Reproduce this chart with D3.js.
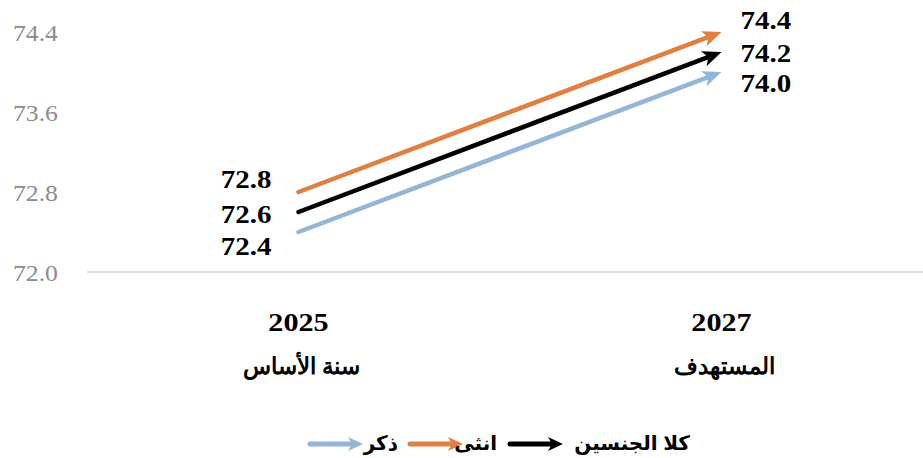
<!DOCTYPE html>
<html><head><meta charset="utf-8">
<script src="https://cdn.jsdelivr.net/npm/d3@7"></script>
<style>
html,body{margin:0;padding:0;background:#fff;}
svg{display:block;}
</style></head>
<body>
<svg id="chart" width="923" height="458"></svg>
<script>
const categories = ["2025", "2027"];
const categoryNames = ["سنة الأساس", "المستهدف"];
const seriesNames = ["ذكر", "انثى", "كلا الجنسين"];
const maleValues = [72.4, 74.0];
const femaleValues = [72.8, 74.4];
const bothValues = [72.6, 74.2];
const yTicks = [72.0, 72.8, 73.6, 74.4];

const series = [
  {name: seriesNames[0], values: maleValues, color: "#93B6D6", startDy: 14, endDy: 11},
  {name: seriesNames[1], values: femaleValues, color: "#E07F40", startDy: -13, endDy: -12},
  {name: seriesNames[2], values: bothValues, color: "#000000", startDy: 2, endDy: 1}
];

const svg = d3.select("#chart");
const x = d3.scaleBand().domain(categories).range([87, 933]);
const y = d3.scaleLinear().domain([72.0, 74.4]).range([272, 32]);
const cx = c => x(c) + x.bandwidth() / 2;
const serif = "'Liberation Serif','Times New Roman','DejaVu Serif',serif";
const SX = 1.16;

function wideText(px, py, anchor, size, str, opts = {}) {
  const g = svg.append("g").attr("transform", `translate(${px},${py}) scale(${opts.sx || SX},1)`);
  return g.append("text").attr("x", 0).attr("y", 0).attr("dy", opts.dy || "0.35em")
    .attr("text-anchor", anchor).attr("font-family", opts.family || serif)
    .attr("font-weight", opts.weight || "bold").attr("font-size", size)
    .attr("fill", opts.fill || "#000").text(str);
}

// axis line
svg.append("line").attr("x1", 87).attr("x2", 923).attr("y1", y(72.0)).attr("y2", y(72.0))
  .attr("stroke", "#D9D9D9").attr("stroke-width", 1.5);

// y tick labels (via axis generator for positions)
const yAxis = d3.axisLeft(y).tickValues(yTicks).tickFormat(d3.format(".1f")).tickSize(0).tickPadding(0);
const ga = svg.append("g").attr("transform", "translate(58,0)").call(yAxis);
ga.select(".domain").remove();
ga.selectAll("text").attr("font-family", serif).attr("font-size", 23).attr("fill", "#8C8C8C")
  .attr("dy", "0.35em").attr("x", 0).attr("transform", `scale(${1.12},1)`);

// category labels
categories.forEach((c, i) => {
  wideText(cx(c), 322, "middle", 26, c);
  wideText(cx(c) + 3, 366, "middle", 23, categoryNames[i], {sx: 1.0});
});

const arrowPath = (len, half, notch) => `M0,0 L${-len},${-half} L${-len + notch},0 L${-len},${half} Z`;

// lines
series.forEach(s => {
  const x0 = cx(categories[0]), y0 = y(s.values[0]);
  const x1 = cx(categories[1]), y1 = y(s.values[1]);
  const ang = Math.atan2(y1 - y0, x1 - x0);
  const back = 8;
  svg.append("line").attr("x1", x0).attr("y1", y0)
    .attr("x2", x1 - back * Math.cos(ang)).attr("y2", y1 - back * Math.sin(ang))
    .attr("stroke", s.color).attr("stroke-width", 4.5).attr("stroke-linecap", "round");
  svg.append("path").attr("d", arrowPath(19, 8, 5))
    .attr("transform", `translate(${x1},${y1}) rotate(${ang * 180 / Math.PI})`)
    .attr("fill", s.color);
  wideText(x0 - 27, y0 + s.startDy, "end", 25, d3.format(".1f")(s.values[0]));
  wideText(x1 + 19, y1 + s.endDy, "start", 25, d3.format(".1f")(s.values[1]));
});

// legend
const legendItems = [
  {s: series[0], ax: 308, tx: 398},
  {s: series[1], ax: 408, tx: 497},
  {s: series[2], ax: 508, tx: 690}
];
const ly = 444;
legendItems.forEach(li => {
  const len = 55;
  svg.append("line").attr("x1", li.ax + 2).attr("y1", ly).attr("x2", li.ax + len - 7).attr("y2", ly)
    .attr("stroke", li.s.color).attr("stroke-width", 5).attr("stroke-linecap", "round");
  svg.append("path").attr("d", arrowPath(15, 7, 4))
    .attr("transform", `translate(${li.ax + len},${ly})`).attr("fill", li.s.color);
  wideText(li.tx, ly, "end", 20, li.s.name,
    {sx: 1.0, dy: "0.3em", family: "'Liberation Sans','DejaVu Sans',Arial,sans-serif"});
});
</script>
</body></html>
